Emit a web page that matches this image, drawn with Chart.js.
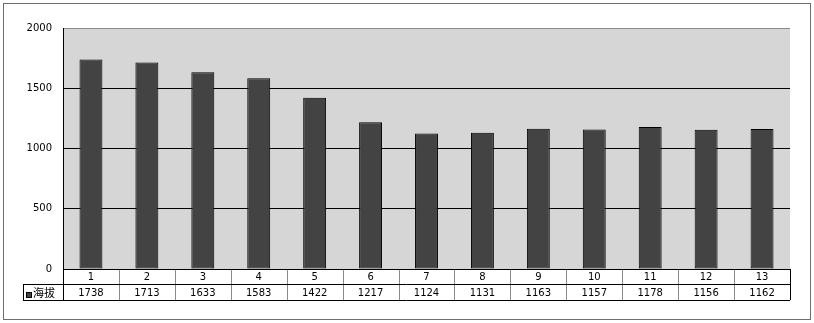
<!DOCTYPE html>
<html>
<head>
<meta charset="utf-8">
<script src="https://cdn.jsdelivr.net/npm/chart.js@4/dist/chart.umd.min.js"></script>
<style>
  html, body { margin: 0; padding: 0; background: #fff; }
  canvas { display: block; }
</style>
</head>
<body>
<canvas id="chart" width="814" height="323"></canvas>
<script>
const categories = ['1', '2', '3', '4', '5', '6', '7', '8', '9', '10', '11', '12', '13'];
const elevation = [1738, 1713, 1633, 1583, 1422, 1217, 1124, 1131, 1163, 1157, 1178, 1156, 1162];
const seriesName = '海拔';
const yMin = 0;
const yMax = 2000;
const yStep = 500;

const FONT = '10px "DejaVu Sans", "Noto Sans CJK SC", sans-serif';

// grey plot area + white page behind the chart
const backdrop = {
  id: 'backdrop',
  beforeDraw(chart) {
    const { ctx, chartArea: a } = chart;
    ctx.save();
    ctx.fillStyle = '#fff';
    ctx.fillRect(0, 0, chart.width, chart.height);
    ctx.fillStyle = '#d6d6d6';
    ctx.fillRect(a.left, a.top, a.right - a.left, a.bottom - a.top);
    ctx.restore();
  }
};

// Excel-style data table under the plot, plus the outer frame
const dataTable = {
  id: 'dataTable',
  afterDraw(chart) {
    const { ctx, chartArea: a } = chart;
    const x = chart.scales.x;
    const n = categories.length;
    const step = (a.right - a.left) / n;
    const row1 = a.bottom, row2 = a.bottom + 15, row3 = a.bottom + 31;
    const legendLeft = 23;

    ctx.save();
    ctx.lineWidth = 1;

    // vertical cell lines
    ctx.strokeStyle = '#8a8a8a';
    for (let i = 1; i < n; i++) {
      const px = Math.round(a.left + i * step) + 0.5;
      ctx.beginPath();
      ctx.moveTo(px, row1);
      ctx.lineTo(px, row3);
      ctx.stroke();
    }

    ctx.strokeStyle = '#000';
    ctx.beginPath();
    ctx.moveTo(a.left, row1 + 0.5); ctx.lineTo(a.right, row1 + 0.5);
    ctx.moveTo(legendLeft, row2 + 0.5); ctx.lineTo(a.right, row2 + 0.5);
    ctx.moveTo(legendLeft, row3 + 0.5); ctx.lineTo(a.right, row3 + 0.5);
    ctx.moveTo(a.left + 0.5, row1); ctx.lineTo(a.left + 0.5, row3);
    ctx.moveTo(legendLeft + 0.5, row2); ctx.lineTo(legendLeft + 0.5, row3);
    ctx.moveTo(a.right + 0.5, row1); ctx.lineTo(a.right + 0.5, row3);
    ctx.stroke();

    ctx.fillStyle = '#000';
    ctx.font = FONT;
    ctx.textAlign = 'center';
    ctx.textBaseline = 'middle';
    categories.forEach((c, i) => {
      const cx = x.getPixelForValue(i);
      ctx.fillText(c, cx, (row1 + row2) / 2 + 1);
      ctx.fillText(String(elevation[i]), cx, (row2 + row3) / 2 + 1);
    });

    // legend key
    ctx.fillStyle = '#434343';
    ctx.fillRect(legendLeft + 3, row2 + 8, 6, 6);
    ctx.strokeStyle = '#000';
    ctx.strokeRect(legendLeft + 3.5, row2 + 8.5, 5, 5);
    ctx.fillStyle = '#000';
    ctx.textAlign = 'left';
    ctx.font = '11px "Noto Sans CJK SC", sans-serif';
    ctx.fillText(seriesName, legendLeft + 10, (row2 + row3) / 2 + 1);

    // outer frame
    ctx.strokeStyle = '#6e6e6e';
    ctx.strokeRect(3.5, 3.5, 807, 316);
    ctx.restore();
  }
};

new Chart(document.getElementById('chart'), {
  type: 'bar',
  data: {
    labels: categories,
    datasets: [{
      label: seriesName,
      data: elevation,
      backgroundColor: '#434343',
      borderColor: '#000',
      borderWidth: 1,
      borderSkipped: false,
      categoryPercentage: 1,
      barPercentage: 0.41,
    }],
  },
  options: {
    responsive: false,
    animation: false,
    layout: { padding: { top: 28, right: 24, bottom: 54, left: 0 } },
    plugins: {
      legend: { display: false },
      tooltip: { enabled: false },
    },
    scales: {
      x: { display: false },
      y: {
        min: yMin,
        max: yMax,
        afterFit(scale) { scale.width = 63; },
        border: { display: true, color: '#000', width: 1 },
        grid: {
          drawTicks: false,
          color: (c) => (c.tick.value === yMax ? '#8a8a8a' : '#000'),
          lineWidth: 1,
        },
        ticks: {
          stepSize: yStep,
          padding: 11,
          color: '#000',
          font: { family: '"DejaVu Sans", sans-serif', size: 10 },
          callback: (v) => String(v),
        },
      },
    },
  },
  plugins: [backdrop, dataTable],
});
</script>
</body>
</html>
